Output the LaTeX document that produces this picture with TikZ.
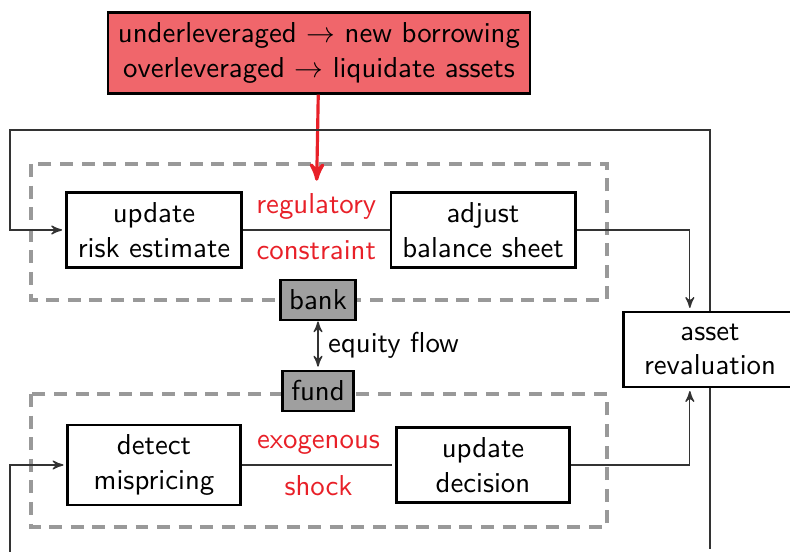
\documentclass[tikz,border=0pt]{standalone}
\usepackage{amsmath}
\usepackage{tikz}
\usetikzlibrary{
        arrows,
        positioning
    }
\definecolor{alertred}{RGB}{232,32,40}
\definecolor{boxred}{RGB}{240,102,107}
\tikzset{>=stealth',shorten >=1pt,auto}

\begin{document}
\begin{tikzpicture}[x=0.0122cm,y=-0.0122cm,font=\sffamily]
                \tikzset{stepbox/.style={draw,line width=0.9pt,align=center,inner xsep=4pt,minimum width=60pt,minimum height=26pt}}
                \tikzset{agent/.style={draw,line width=0.9pt,fill=gray!75,inner sep=3pt,minimum height=14pt}}
                \tikzset{group/.style={draw=gray!80,line width=1.1pt,dash pattern=on 4.5pt off 3pt}}
                \tikzset{link/.style={draw=black!80,line width=0.45pt}}
                \tikzset{lbl/.style={text=alertred}}
                \useasboundingbox (0,0) rectangle (790,552);

                    % dashed groups
                    \draw[group] (31,164) rectangle (607,300);
                    \draw[group] (31,394) rectangle (607,527);

                    \node[draw,line width=0.9pt,fill=boxred,align=center,inner sep=3.5pt] (rule) at (319,53)
                        {underleveraged $\rightarrow$ new borrowing\\overleveraged $\rightarrow$ liquidate assets};
                    \node[stepbox] (risk) at (154,230) {update\\risk estimate};
                    \node[stepbox] (adjust) at (483,230) {adjust\\balance sheet};
                    \node[agent] (bank) at (318,300) {bank};
                    \node[agent] (fund) at (318,391) {fund};
                    \node[stepbox] (detect) at (154,465) {detect\\mispricing};
                    \node[stepbox] (decide) at (483,465) {update\\decision};
                    \node[stepbox] (reval) at (710,349.5) {asset\\revaluation};

                    \coordinate (loopTL) at (10,130);
                    \coordinate (loopBL) at (10,552);
                    \coordinate (loopBR) at (710,552);

                \path[link]
                        (risk) -- node[lbl,above] (reg) {regulatory} node[lbl,below] {constraint} (adjust)
                        (detect) -- node[lbl,above] {exogenous} node[lbl,below] {shock} (decide)
                        ;
                \draw[->,alertred,line width=1.1pt] (rule) -- (reg);
                \draw[link,<->] (bank) -- node {equity flow} (fund);
                \draw[link,->] (adjust.east) -| ([xshift=-7pt]reval.north);
                \draw[link,->] (decide.east) -| ([xshift=-7pt]reval.south);
                \draw[link,->] (reval.north) |- (loopTL) |- (risk.west);
                \draw[link] (reval.south) -- (loopBR);
                \draw[link,->] (loopBL) |- (detect.west);
            \end{tikzpicture}
\end{document}
